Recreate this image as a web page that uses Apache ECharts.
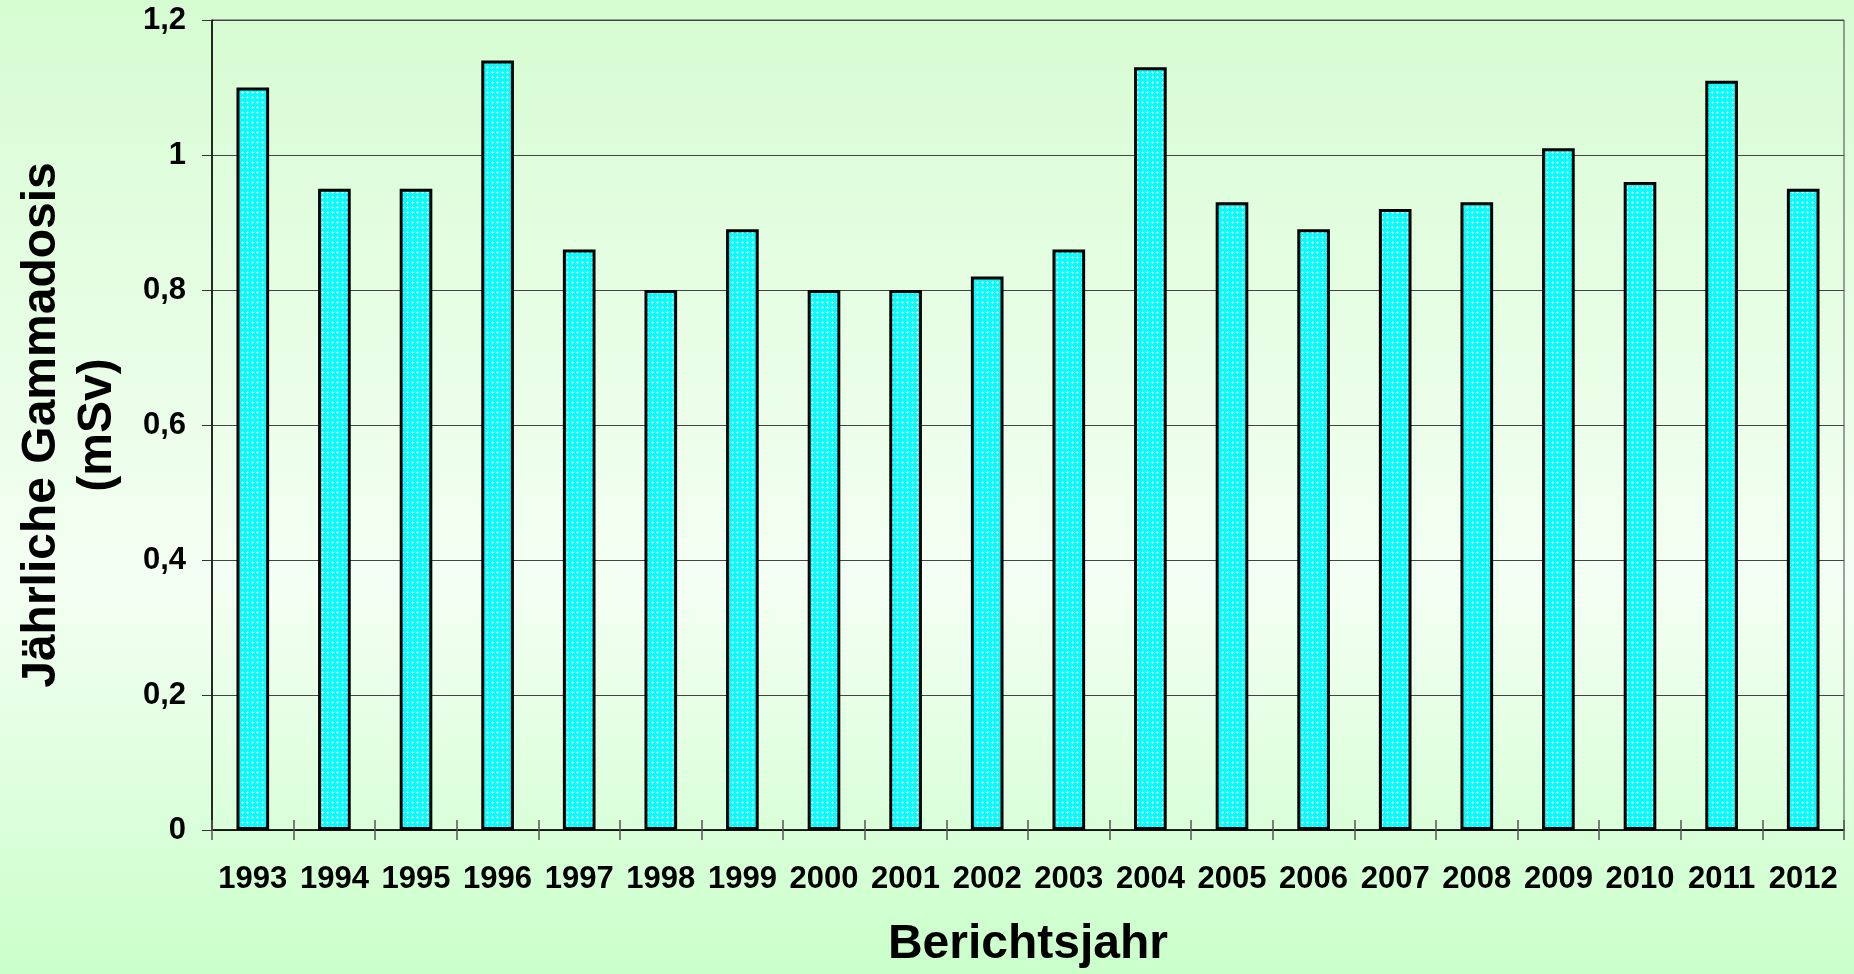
<!DOCTYPE html>
<html>
<head>
<meta charset="utf-8">
<title>Jährliche Gammadosis</title>
<script src="https://cdn.jsdelivr.net/npm/echarts@6/dist/echarts.min.js"></script>
<style>
  html, body { margin: 0; padding: 0; }
  #chart { width: 1854px; height: 974px; }
</style>
</head>
<body>
<div id="chart"></div>
<script>
var years = ['1993', '1994', '1995', '1996', '1997', '1998', '1999', '2000', '2001', '2002',
             '2003', '2004', '2005', '2006', '2007', '2008', '2009', '2010', '2011', '2012']
var gammaDose = [1.10, 0.95, 0.95, 1.14, 0.86, 0.80, 0.89, 0.80, 0.80, 0.82,
                 0.86, 1.13, 0.93, 0.89, 0.92, 0.93, 1.01, 0.96, 1.11, 0.95]

var FONT = '"Liberation Sans", Arial, sans-serif'

// dotted cyan fill like the original
function makeDots() {
  var c = document.createElement('canvas')
  c.width = 5
  c.height = 5
  var ctx = c.getContext('2d')
  ctx.fillStyle = '#00ffff'
  ctx.fillRect(0, 0, 5, 5)
  ctx.fillStyle = '#b8ffff'
  ctx.fillRect(1, 2, 3, 1)
  ctx.fillRect(2, 1, 1, 3)
  ctx.fillStyle = '#ffffff'
  ctx.fillRect(2, 2, 1, 1)
  return c
}

var chart = echarts.init(document.getElementById('chart'))

var option = {
  backgroundColor: {
    type: 'linear', x: 0, y: 0, x2: 0, y2: 1,
    colorStops: [
      { offset: 0, color: '#d6fcd2' },
      { offset: 0.6, color: '#f4fff3' },
      { offset: 1, color: '#caffca' }
    ]
  },
  animation: false,
  grid: {
    left: 212, top: 20, right: 10, bottom: 143,
    show: true,
    borderColor: '#444',
    borderWidth: 1,
    backgroundColor: 'transparent'
  },
  xAxis: [
    {
      type: 'category',
      data: years,
      name: 'Berichtsjahr',
      nameLocation: 'middle',
      nameGap: 91,
      nameTextStyle: { fontFamily: FONT, fontWeight: 'bold', fontSize: 48, color: '#000' },
      axisLine: { lineStyle: { color: '#000', width: 1.5 } },
      axisTick: { show: true, length: 10, lineStyle: { color: '#555', width: 1.5 } },
      axisLabel: { fontFamily: FONT, fontWeight: 'bold', fontSize: 31, color: '#000', margin: 34, interval: 0 }
    },
    {
      // second axis only to draw the inner half of the crossing ticks
      type: 'category',
      data: years,
      position: 'bottom',
      axisLine: { show: false },
      axisTick: { show: true, inside: true, length: 10, lineStyle: { color: '#555', width: 1.5 } },
      axisLabel: { show: false }
    }
  ],
  yAxis: {
    type: 'value',
    min: 0,
    max: 1.2,
    interval: 0.2,
    name: 'Jährliche Gammadosis\n(mSv)',
    nameLocation: 'middle',
    nameGap: 86,
    nameTextStyle: { fontFamily: FONT, fontWeight: 'bold', fontSize: 48, color: '#000', lineHeight: 56 },
    axisLine: { show: true, lineStyle: { color: '#000', width: 1.5 } },
    axisTick: { show: true, length: 10, lineStyle: { color: '#333' } },
    splitLine: { lineStyle: { color: '#444', width: 1 } },
    axisLabel: {
      fontFamily: FONT, fontWeight: 'bold', fontSize: 31, color: '#000', margin: 26,
      formatter: function (v) {
        return String(Math.round(v * 10) / 10).replace('.', ',')
      }
    }
  },
  series: [{
    type: 'bar',
    xAxisIndex: 0,
    data: gammaDose,
    barWidth: '40%',
    itemStyle: {
      color: { image: makeDots(), repeat: 'repeat' },
      borderColor: '#000',
      borderWidth: 3
    }
  }]
}

chart.setOption(option)
</script>
</body>
</html>
